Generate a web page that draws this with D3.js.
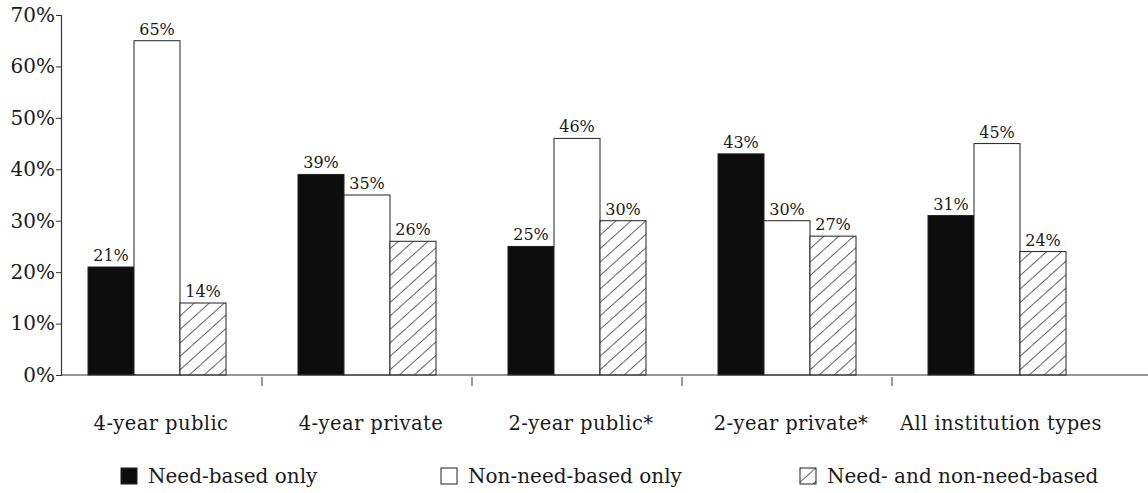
<!DOCTYPE html>
<html>
<head>
<meta charset="utf-8">
<script src="https://cdn.jsdelivr.net/npm/d3@7/dist/d3.min.js"></script>
<style>
  html, body { margin: 0; padding: 0; background: #fff; }
  svg { display: block; }
  text { fill: #1a1a1a; }
</style>
</head>
<body>
<svg id="chart" width="1148" height="493"></svg>
<script>
// Institution categories along the x axis
const categories = ["4-year public", "4-year private", "2-year public*", "2-year private*", "All institution types"];
// Series names (legend order)
const seriesNames = ["Need-based only", "Non-need-based only", "Need- and non-need-based"];
const seriesKeys = ["need", "nonNeed", "both"];
// Percentages per category, one array per series
const needBased = [21, 39, 25, 43, 31];
const nonNeedBased = [65, 35, 46, 30, 45];
const bothTypes = [14, 26, 30, 27, 24];
// Y axis ticks
const yTicks = [0, 10, 20, 30, 40, 50, 60, 70];

const seriesValues = [needBased, nonNeedBased, bothTypes];
const rows = categories.map((c, i) => ({
  category: c,
  values: seriesKeys.map((k, s) => ({ key: k, value: seriesValues[s][i] }))
}));

const svg = d3.select("#chart");
const serif = "'DejaVu Serif', 'Liberation Serif', serif";

// Diagonal hatch pattern for the combined series
const defs = svg.append("defs");
const pat = defs.append("pattern")
  .attr("id", "hatch")
  .attr("patternUnits", "userSpaceOnUse")
  .attr("width", 10).attr("height", 10)
  .attr("patternTransform", "rotate(48)");
pat.append("rect").attr("width", 10).attr("height", 10).attr("fill", "#fff");
pat.append("line")
  .attr("x1", 0).attr("y1", -1).attr("x2", 0).attr("y2", 11)
  .attr("stroke", "#111").attr("stroke-width", 1.3);

const fills = { need: "#0d0d0d", nonNeed: "#ffffff", both: "url(#hatch)" };

const x0 = d3.scaleBand().domain(categories).range([52, 1102]).padding(0);
const x1 = d3.scaleBand().domain(seriesKeys).range([36, 174]).padding(0);
const y = d3.scaleLinear().domain([0, 70]).range([375, 15]);

// Bars
const groups = svg.append("g").selectAll("g")
  .data(rows).join("g")
  .attr("transform", d => `translate(${x0(d.category)},0)`);

groups.selectAll("rect")
  .data(d => d.values).join("rect")
  .attr("x", d => x1(d.key))
  .attr("y", d => y(d.value))
  .attr("width", x1.bandwidth())
  .attr("height", d => y(0) - y(d.value))
  .attr("fill", d => fills[d.key])
  .attr("stroke", "#222")
  .attr("stroke-width", 1);

// Value labels
groups.selectAll("text.val")
  .data(d => d.values).join("text")
  .attr("class", "val")
  .attr("x", d => x1(d.key) + x1.bandwidth() / 2)
  .attr("y", d => y(d.value) - 6)
  .attr("text-anchor", "middle")
  .attr("font-family", serif)
  .attr("font-size", 16)
  .text(d => d.value + "%");

// Y axis
const yAxis = d3.axisLeft(y).tickValues(yTicks).tickFormat(d => d + "%").tickSize(5).tickPadding(1);
const gy = svg.append("g").attr("transform", "translate(61,0)").call(yAxis);
gy.select(".domain").attr("stroke", "#333").attr("stroke-width", 1.2);
gy.selectAll(".tick line").attr("stroke", "#333");
gy.selectAll(".tick text")
  .attr("font-family", serif)
  .attr("font-size", 20)
  .attr("fill", "#1a1a1a");

// X axis baseline with ticks between categories
const gx = svg.append("g").attr("transform", `translate(0,${y(0)})`);
gx.append("line")
  .attr("x1", 61).attr("x2", 1148).attr("y1", 0).attr("y2", 0)
  .attr("stroke", "#333").attr("stroke-width", 1.2);
gx.selectAll("line.sep")
  .data(categories.slice(1)).join("line")
  .attr("class", "sep")
  .attr("x1", d => x0(d)).attr("x2", d => x0(d))
  .attr("y1", 2).attr("y2", 11)
  .attr("stroke", "#333");
gx.selectAll("text.cat")
  .data(categories).join("text")
  .attr("class", "cat")
  .attr("x", d => x0(d) + x0.bandwidth() / 2 + 4)
  .attr("y", 55)
  .attr("text-anchor", "middle")
  .attr("font-family", serif)
  .attr("font-size", 19.5)
  .attr("letter-spacing", 0.4)
  .text(d => d);

// Legend
const legendX = [121, 441, 800];
const legend = svg.append("g").selectAll("g")
  .data(seriesKeys).join("g")
  .attr("transform", (d, i) => `translate(${legendX[i]},468)`);
legend.append("rect")
  .attr("width", 16).attr("height", 16)
  .attr("fill", d => fills[d])
  .attr("stroke", "#222").attr("stroke-width", 1);
legend.append("text")
  .attr("x", 27).attr("y", 15)
  .attr("font-family", serif)
  .attr("font-size", 20)
  .text((d, i) => seriesNames[i]);
</script>
</body>
</html>
